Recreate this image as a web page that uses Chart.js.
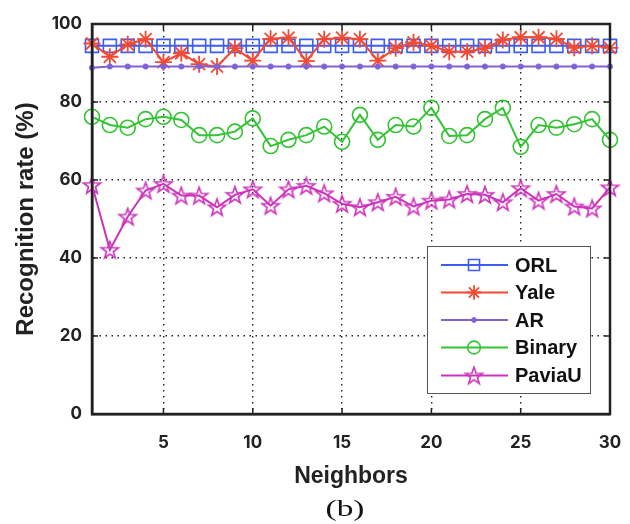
<!DOCTYPE html>
<html>
<head>
<meta charset="utf-8">
<script src="https://cdn.jsdelivr.net/npm/chart.js@4.4.1/dist/chart.umd.min.js"></script>
<style>
  html, body { margin: 0; padding: 0; background: #fff; }
  #wrap { width: 630px; height: 524px; position: relative; }
</style>
</head>
<body>
<div id="wrap"><canvas id="c" width="630" height="524"></canvas></div>
<script>
// ---- data ----
const neighbors = [1,2,3,4,5,6,7,8,9,10,11,12,13,14,15,16,17,18,19,20,21,22,23,24,25,26,27,28,29,30];
const orl    = [94.4,94.4,94.4,94.4,94.4,94.4,94.4,94.4,94.4,94.4,94.4,94.4,94.4,94.4,94.4,94.4,94.4,94.4,94.4,94.4,94.4,94.4,94.4,94.4,94.4,94.4,94.4,94.4,94.4,94.4];
const yale   = [95.0,91.6,94.8,96.1,90.2,92.5,89.7,89.1,93.8,90.6,96.2,96.5,90.5,96.1,96.5,96.1,90.6,93.8,95.3,94.4,92.9,92.9,93.8,95.9,96.6,96.6,96.2,93.9,94.4,93.9];
const ar     = [88.8,89.1,89.1,89.1,89.1,89.1,89.1,89.1,89.1,89.1,89.1,89.1,89.1,89.1,89.1,89.1,89.1,89.1,89.1,89.1,89.1,89.1,89.1,89.1,89.1,89.1,89.1,89.1,89.1,89.1];
const binary = [76.2,74.1,73.4,75.6,76.2,75.4,71.5,71.5,72.4,75.8,68.7,70.3,71.5,73.7,69.8,76.7,70.3,74.1,73.7,78.5,71.3,71.5,75.6,78.5,68.5,74.1,73.4,74.3,75.6,70.3];
const paviaU = [58.7,42.1,50.6,57.3,59.0,56.0,56.0,53.0,56.2,57.6,53.4,57.6,58.5,56.6,53.9,53.0,54.3,55.7,53.2,54.7,55.0,56.4,56.2,54.3,57.9,54.7,56.4,53.2,52.7,58.1];

const xTicks = [5, 10, 15, 20, 25, 30];
const yTicks = [0, 20, 40, 60, 80, 100];

const INK = '#222';
const FONT = '"Liberation Sans", Arial, sans-serif';
const TICK_FONT = 'Inter, "Liberation Sans", sans-serif';

/* five-pointed star marker (MATLAB 'p') */
function pentagram(color, r) {
  const size = Math.ceil(r * 2 + 4);
  const cv = document.createElement('canvas');
  cv.width = size; cv.height = size;
  const g = cv.getContext('2d');
  const cx = size / 2, cy = size / 2 + r * 0.08;
  g.beginPath();
  for (let i = 0; i < 10; i++) {
    const rad = i % 2 === 0 ? r : r * 0.4;
    const a = -Math.PI / 2 + i * Math.PI / 5;
    const px = cx + rad * Math.cos(a), py = cy + rad * Math.sin(a);
    i === 0 ? g.moveTo(px, py) : g.lineTo(px, py);
  }
  g.closePath();
  g.strokeStyle = color;
  g.lineWidth = 1.6;
  g.stroke();
  return cv;
}

function series(label, values, color, style, radius, extra) {
  return Object.assign({
    label,
    data: neighbors.map((n, i) => ({ x: n, y: values[i] })),
    borderColor: color,
    backgroundColor: 'rgba(0,0,0,0)',
    pointBorderColor: color,
    pointBackgroundColor: 'rgba(0,0,0,0)',
    pointStyle: style,
    pointRadius: radius,
    pointBorderWidth: 1.6,
    borderWidth: 2,
    tension: 0,
    fill: false,
    clip: false,
  }, extra || {});
}

const datasets = [
  series('PaviaU', paviaU, '#cc33bb', pentagram('#cc33bb', 9), 9),
  series('Binary', binary, '#33c333', 'circle', 7.5),
  series('AR', ar, '#7f63d6', 'circle', 2.6, { pointBackgroundColor: '#7f63d6', pointBorderWidth: 1 }),
  series('Yale', yale, '#f24a33', 'star', 8.5, { pointBorderWidth: 1.8 }),
  series('ORL', orl, '#3d5cf2', 'rect', 9.2),
];

/* box, inward ticks, legend and caption */
const decorations = {
  id: 'decorations',
  afterDatasetsDraw(chart) {
    const { ctx, chartArea: a, scales: { x, y } } = chart;
    ctx.save();
    ctx.strokeStyle = INK;
    ctx.lineWidth = 1.5;
    ctx.beginPath();
    yTicks.forEach((v) => {
      const py = y.getPixelForValue(v);
      ctx.moveTo(a.left, py); ctx.lineTo(a.left + 6, py);
      ctx.moveTo(a.right, py); ctx.lineTo(a.right - 6, py);
    });
    xTicks.forEach((v) => {
      const px = x.getPixelForValue(v);
      ctx.moveTo(px, a.bottom); ctx.lineTo(px, a.bottom - 6);
      ctx.moveTo(px, a.top); ctx.lineTo(px, a.top + 6);
    });
    ctx.stroke();

    ctx.lineWidth = 2.5;
    ctx.strokeRect(a.left, a.top, a.right - a.left, a.bottom - a.top);

    // legend
    const L = { x: 427, y: 246, w: 163, h: 147, rows: [265, 292.5, 320, 347.5, 375.5] };
    ctx.fillStyle = '#fff';
    ctx.fillRect(L.x, L.y, L.w, L.h);
    ctx.lineWidth = 1;
    ctx.strokeStyle = '#555';
    ctx.strokeRect(L.x + 0.5, L.y + 0.5, L.w, L.h);
    const order = [...chart.data.datasets].reverse();
    order.forEach((ds, i) => {
      const ry = L.rows[i];
      ctx.strokeStyle = ds.borderColor;
      ctx.lineWidth = ds.borderWidth;
      ctx.beginPath();
      ctx.moveTo(441, ry); ctx.lineTo(508, ry);
      ctx.stroke();
      ctx.strokeStyle = ds.pointBorderColor;
      ctx.fillStyle = ds.pointBackgroundColor;
      ctx.lineWidth = ds.pointBorderWidth;
      const r = ds.label === 'AR' ? 2.4 : ds.pointRadius * 0.85;
      Chart.helpers.drawPoint(ctx, {
        pointStyle: ds.pointStyle,
        radius: r,
        borderWidth: ds.pointBorderWidth,
      }, 474, ry);
      ctx.font = 'bold 20px ' + FONT;
      ctx.textBaseline = 'middle';
      ctx.textAlign = 'left';
      ctx.fillStyle = '#111';
      ctx.fillText(ds.label, 515, ry + 1);
    });

    // caption
    ctx.fillStyle = '#111';
    ctx.font = '23px "Liberation Serif", "Times New Roman", serif';
    ctx.textAlign = 'center';
    ctx.textBaseline = 'middle';
    ctx.translate(345, 510);
    ctx.scale(1.45, 1);
    ctx.fillText('(b)', 0, 0);
    ctx.restore();
  },
};

new Chart(document.getElementById('c'), {
  type: 'line',
  data: { datasets },
  plugins: [decorations],
  options: {
    responsive: false,
    animation: false,
    events: [],
    layout: { padding: { top: 24, right: 20, left: 0, bottom: 0 } },
    plugins: { legend: { display: false }, tooltip: { enabled: false } },
    scales: {
      x: {
        type: 'linear',
        min: 1,
        max: 30,
        afterBuildTicks: (s) => { s.ticks = xTicks.map((v) => ({ value: v })); },
        afterFit: (s) => { s.height = 110; s.paddingLeft = 0; s.paddingRight = 0; },
        grid: { color: INK, lineWidth: 1.4, drawTicks: false },
        border: { display: true, color: INK, width: 2.5, dash: [1.5, 4.5] },
        ticks: { color: INK, padding: 19, font: { family: TICK_FONT, size: 17, weight: 'bold' }, maxRotation: 0 },
        title: {
          display: true, text: 'Neighbors', color: INK,
          font: { family: FONT, size: 23, weight: 'bold' },
          padding: { top: 0, bottom: 34 },
        },
      },
      y: {
        min: 0,
        max: 100,
        afterBuildTicks: (s) => { s.ticks = yTicks.map((v) => ({ value: v })); },
        afterFit: (s) => { s.width = 92; s.paddingTop = 0; s.paddingBottom = 0; },
        grid: { color: INK, lineWidth: 1.4, drawTicks: false },
        border: { display: true, color: INK, width: 2.5, dash: [1.5, 4.5] },
        ticks: { color: INK, padding: 10, font: { family: TICK_FONT, size: 17, weight: 'bold' } },
        title: {
          display: true, text: 'Recognition rate (%)', color: INK,
          font: { family: FONT, size: 24, weight: 'bold' },
          padding: { top: 12, bottom: 0 },
        },
      },
    },
  },
});
</script>
</body>
</html>
